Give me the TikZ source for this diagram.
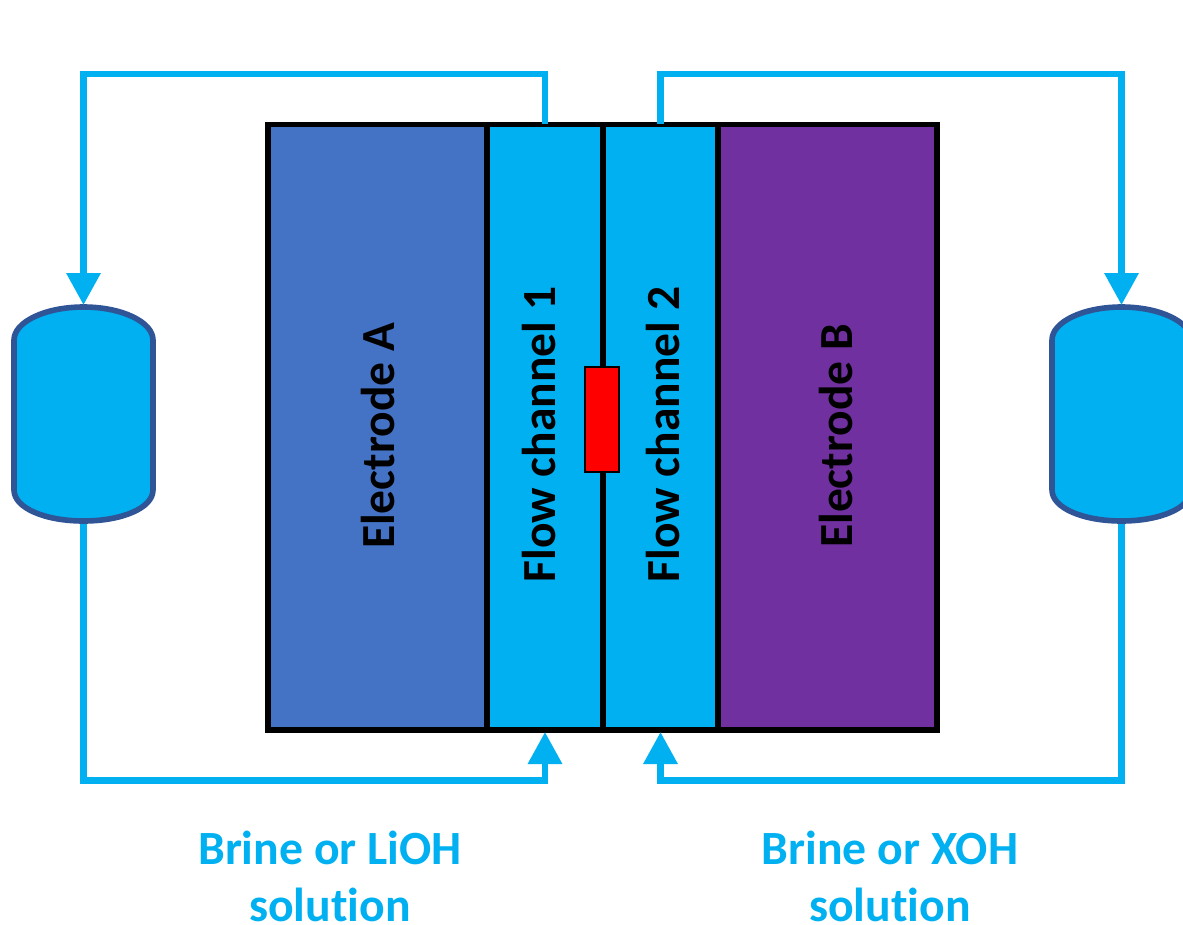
\documentclass[tikz,border=0pt]{standalone}
\usepackage{fontspec}
\setmainfont[Ligatures=NoCommon]{Carlito}
\usetikzlibrary{arrows.meta}
\definecolor{flowblue}{HTML}{00B0F0}
\definecolor{elecblue}{HTML}{4472C4}
\definecolor{elecpurple}{HTML}{7030A0}
\definecolor{tankedge}{HTML}{2F5597}
\tikzset{
	 x = 1 pt, y = -1 pt,
	 cell/.style = {draw = black, line width = 5.8 pt},
	 pipe/.style = {draw = flowblue, line width = 6.5 pt},
	 pipearrow/.style = {pipe, -{Triangle[length=32pt, width=33pt]}},
	 tank/.style = {fill = flowblue, draw = tankedge, line width = 5.6 pt},
	 celllabel/.style = {rotate = 90, font = \bfseries\fontsize{47.5}{52}\selectfont, text = black},
	 brinelabel/.style = {align = center, inner sep = 0 pt, font = \bfseries\fontsize{47.7}{57}\selectfont, text = flowblue}
}
\begin{document}
\begin{tikzpicture}
	 \useasboundingbox (0, 0) rectangle (1183, 924);
	 
	 \draw[cell, fill = elecblue] (268, 124.5) rectangle (487, 730);
	 \draw[cell, fill = flowblue] (487, 124.5) rectangle (603, 730);
	 \draw[cell, fill = flowblue] (603, 124.5) rectangle (718, 730);
	 \draw[cell, fill = elecpurple] (718, 124.5) rectangle (937, 730);
	 
	 \draw[fill = red, draw = black, line width = 1.8 pt] (585, 367) rectangle (619, 472);
	 
	 \node[celllabel] (electrodeA) at (378, 436) {Electrode A};
	 \node[celllabel] (channel1) at (539, 434.5) {Flow channel 1};
	 \node[celllabel] (channel2) at (663, 434.5) {Flow channel 2};
	 \node[celllabel] (electrodeB) at (836, 436) {Electrode B};
	 
	 \draw[tank] (14, 340) .. controls (14, 322) and (45, 307) .. (83.5, 307) .. controls (122, 307) and (153, 322) .. (153, 340) -- (153, 490) .. controls (153, 508) and (122, 521) .. (83.5, 521) .. controls (45, 521) and (14, 508) .. (14, 490) -- cycle;
	 \draw[tank] (1052, 340) .. controls (1052, 322) and (1083, 307) .. (1121.5, 307) .. controls (1160, 307) and (1191, 322) .. (1191, 340) -- (1191, 490) .. controls (1191, 508) and (1160, 521) .. (1121.5, 521) .. controls (1083, 521) and (1052, 508) .. (1052, 490) -- cycle;
	 
	 \coordinate (outlet1) at (545, 124);
	 \coordinate (outlet2) at (660.5, 124);
	 \coordinate (inlet1) at (545, 732);
	 \coordinate (inlet2) at (660.5, 732);
	 \coordinate (tankAtop) at (83.5, 305);
	 \coordinate (tankBtop) at (1121.5, 305);
	 \coordinate (tankAbottom) at (83.5, 524);
	 \coordinate (tankBbottom) at (1121.5, 524);
	 
	 \draw[pipearrow] (outlet1) -- (545, 74) -- (83.5, 74) -- (tankAtop);
	 \draw[pipearrow] (outlet2) -- (660.5, 74) -- (1121.5, 74) -- (tankBtop);
	 \draw[pipearrow] (tankAbottom) -- (83.5, 780.5) -- (545, 780.5) -- (inlet1);
	 \draw[pipearrow] (tankBbottom) -- (1121.5, 780.5) -- (660.5, 780.5) -- (inlet2);
	 
	 \node[brinelabel] (brineA) at (330, 876) {Brine or LiOH\\solution};
	 \node[brinelabel] (brineB) at (890, 876) {Brine or XOH\\solution};
\end{tikzpicture}
\end{document}
